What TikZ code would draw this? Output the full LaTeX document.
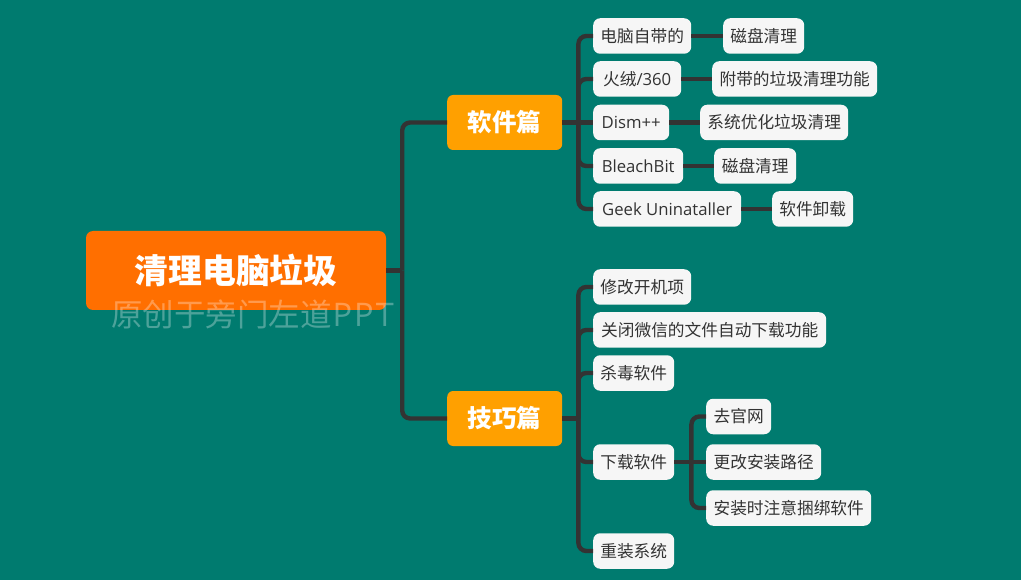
\documentclass[tikz,border=0pt]{standalone}
\usepackage{fontspec}
\usepackage{xcolor}
\setmainfont{Open Sans}
\newfontfamily\cjk{Noto Sans CJK SC}
\usetikzlibrary{positioning}
\definecolor{bgteal}{HTML}{007B6F}
\definecolor{rootorange}{HTML}{FF6F00}
\definecolor{midorange}{HTML}{FFA000}
\definecolor{leafgray}{HTML}{F6F6F6}
\definecolor{inkgray}{HTML}{333333}
\tikzset{
  rootbox/.style={fill=rootorange,rounded corners=7pt,text=white,font=\cjk\bfseries\fontsize{33.8}{36}\selectfont,minimum width=300pt,minimum height=79pt,inner sep=0pt},
  midbox/.style={fill=midorange,rounded corners=6pt,text=white,font=\cjk\bfseries\fontsize{24.5}{28}\selectfont,minimum width=115pt,minimum height=55pt,inner sep=0pt,anchor=west},
  leafbox/.style={fill=leafgray,rounded corners=7pt,text=inkgray,font=\fontsize{16.7}{20}\selectfont,minimum height=35.5pt,inner sep=0pt,anchor=west},
  link/.style={draw=inkgray,line width=4.4pt,rounded corners=8pt},
  mark text/.style={text=white,opacity=.3,font=\cjk\fontsize{31.5}{34}\selectfont,inner sep=0pt}
}
\begin{document}
\begin{tikzpicture}[x=1pt,y=-1pt]
\useasboundingbox (0,0) rectangle (1021,580);
\fill[bgteal] (0,0) rectangle (1021,580);
\node[rootbox] (root) at (236,270.5) {清理电脑垃圾};
\node[midbox] (soft) at (447,122.5) {软件篇};
\node[midbox] (tips) at (447,418.5) {技巧篇};
% upper branch
\node[leafbox,minimum width=98] (own) at (593,36) {\cjk 电脑自带的};
\node[leafbox,minimum width=88] (huo) at (593,79) {{\cjk 火绒}/360};
\node[leafbox,minimum width=76] (dism) at (593,122.5) {Dism++};
\node[leafbox,minimum width=90] (bleach) at (593,166) {BleachBit};
\node[leafbox,minimum width=148] (geek) at (593,209) {Geek Uninataller};
\node[leafbox,minimum width=81] (ownb) at (723,36) {\cjk 磁盘清理};
\node[leafbox,minimum width=165] (huob) at (712,79) {\cjk 附带的垃圾清理功能};
\node[leafbox,minimum width=148] (dismb) at (700,122.5) {\cjk 系统优化垃圾清理};
\node[leafbox,minimum width=82] (bleachb) at (714,166) {\cjk 磁盘清理};
\node[leafbox,minimum width=81] (geekb) at (772,209) {\cjk 软件卸载};
% lower branch
\node[leafbox,minimum width=98] (boot) at (593,287) {\cjk 修改开机项};
\node[leafbox,minimum width=233] (wechat) at (593,330) {\cjk 关闭微信的文件自动下载功能};
\node[leafbox,minimum width=81] (virus) at (593,373) {\cjk 杀毒软件};
\node[leafbox,minimum width=81] (down) at (593,462) {\cjk 下载软件};
\node[leafbox,minimum width=81] (reinst) at (593,551) {\cjk 重装系统};
\node[leafbox,minimum width=65] (site) at (706,416.5) {\cjk 去官网};
\node[leafbox,minimum width=115] (path) at (706,462) {\cjk 更改安装路径};
\node[leafbox,minimum width=165] (bundle) at (706,508) {\cjk 安装时注意捆绑软件};
\node[mark text,anchor=west] (wmark) at (111,314) {原创于旁门左道\kern1pt{\rmfamily\fontsize{32.5}{34}\selectfont P\kern2pt P\kern2pt T}};
% connectors
\coordinate (roottrunk) at ([xshift=16pt]root.east);
\coordinate (softtrunk) at ([xshift=16pt]soft.east);
\coordinate (tipstrunk) at ([xshift=16pt]tips.east);
\coordinate (downtrunk) at ([xshift=17pt]down.east);
\draw[link] (root.east) -- (roottrunk);
\draw[link] (roottrunk) |- (soft.west);
\draw[link] (roottrunk) |- (tips.west);
\draw[link] (soft.east) -- (dism.west);
\draw[link] (softtrunk) |- (own.west);
\draw[link] (softtrunk) |- (huo.west);
\draw[link] (softtrunk) |- (bleach.west);
\draw[link] (softtrunk) |- (geek.west);
\draw[link] (own.east) -- (ownb.west);
\draw[link] (huo.east) -- (huob.west);
\draw[link] (dism.east) -- (dismb.west);
\draw[link] (bleach.east) -- (bleachb.west);
\draw[link] (geek.east) -- (geekb.west);
\draw[link] (tips.east) -- (tipstrunk);
\draw[link] (tipstrunk) |- (boot.west);
\draw[link] (tipstrunk) |- (wechat.west);
\draw[link] (tipstrunk) |- (virus.west);
\draw[link] (tipstrunk) |- (down.west);
\draw[link] (tipstrunk) |- (reinst.west);
\draw[link] (down.east) -- (path.west);
\draw[link] (downtrunk) |- (site.west);
\draw[link] (downtrunk) |- (bundle.west);
\end{tikzpicture}
\end{document}
